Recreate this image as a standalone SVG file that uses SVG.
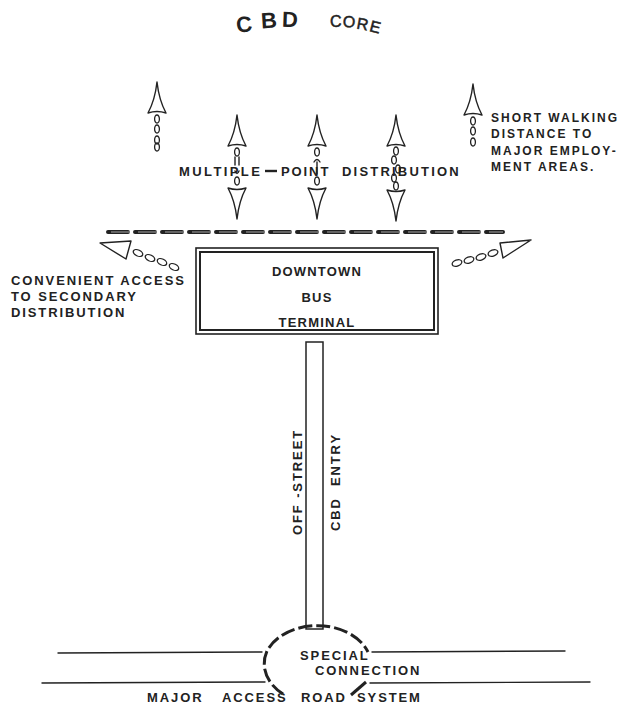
<svg xmlns="http://www.w3.org/2000/svg" width="633" height="706" viewBox="0 0 633 706">
<style>
.t{font-family:"Liberation Sans",Arial,sans-serif;font-weight:bold;fill:#222;font-size:13px;letter-spacing:1.9px}
.ln{fill:none;stroke:#222;stroke-width:1.4;stroke-linecap:round}
.hd{fill:#fff;stroke:#222;stroke-width:1.4;stroke-linejoin:round}
.lk{fill:none;stroke:#222;stroke-width:1.3}
</style>
<defs>
<path id="up" d="M0,0 Q-2,18 -9,31 Q0,28 9,31 Q2,18 0,0 Z"/>
<path id="dn" d="M0,0 Q-2,-18 -9,-31 Q0,-28 9,-31 Q2,-18 0,0 Z"/>
<ellipse id="lk" cx="0" cy="0" rx="2.4" ry="4"/>
</defs>
<rect width="633" height="706" fill="#fff"/>

<g id="title">
<text class="t" x="236" y="32" style="font-size:22px;font-weight:900" transform="rotate(-8 243 24)">C</text>
<text class="t" x="261" y="28" style="font-size:22px;font-weight:900" transform="rotate(-4 268 20)">B</text>
<text class="t" x="282" y="27" style="font-size:22px;font-weight:900" transform="rotate(2 289 20)">D</text>
<text class="t" x="330" y="27" style="font-size:16px;font-weight:normal;stroke:#222;stroke-width:0.5">C</text>
<text class="t" x="343" y="27" style="font-size:16px;font-weight:normal;stroke:#222;stroke-width:0.5" transform="rotate(4 347 21)">O</text>
<text class="t" x="357" y="29" style="font-size:16px;font-weight:normal;stroke:#222;stroke-width:0.5" transform="rotate(10 360 23)">R</text>
<text class="t" x="370" y="32" style="font-size:16px;font-weight:normal;stroke:#222;stroke-width:0.5" transform="rotate(14 373 26)">E</text>
</g>

<g id="arrows-up">
<use href="#up" x="157" y="82" class="hd"/>
<use href="#lk" x="157" y="119" class="lk"/><use href="#lk" x="157" y="129" class="lk"/><use href="#lk" x="157" y="140" class="lk"/><use href="#lk" x="157" y="147" class="lk"/>
<use href="#up" x="473" y="84" class="hd"/>
<use href="#lk" x="473" y="121" class="lk"/><use href="#lk" x="473" y="131" class="lk"/><use href="#lk" x="473" y="142" class="lk"/>
</g>

<g id="arrows-double">
<use href="#up" x="237" y="115" class="hd"/>
<use href="#lk" x="237" y="152" class="lk"/><use href="#lk" x="237" y="181" class="lk"/>
<path class="ln" d="M235,157 v8 M239,157 v8 M235,171 q2,5 4,0"/>
<use href="#dn" x="237" y="219" class="hd"/>

<use href="#up" x="317" y="115" class="hd"/>
<use href="#lk" x="317" y="152" class="lk"/><use href="#lk" x="317" y="181" class="lk"/>
<path class="ln" d="M314,162 q3,-5 6,0 M317,162 v12"/>
<use href="#dn" x="317" y="219" class="hd"/>

<use href="#up" x="396" y="115" class="hd"/>
<use href="#lk" x="396" y="151" class="lk"/><use href="#lk" x="394" y="160" class="lk"/><use href="#lk" x="398" y="169" class="lk"/><use href="#lk" x="394" y="178" class="lk"/><use href="#lk" x="396" y="186" class="lk"/>
<use href="#dn" x="396" y="221" class="hd"/>
</g>

<g id="label-multiple">
<text class="t" x="179" y="176" style="letter-spacing:2.4px">MULTIPLE</text>
<path d="M265,171 h12" stroke="#222" stroke-width="2.4"/>
<text class="t" x="281" y="176">POINT</text>
<text class="t" x="342" y="176" style="letter-spacing:2.2px">DISTRIBUTION</text>
</g>

<g id="label-short">
<text class="t" x="491" y="122" style="font-size:12px;letter-spacing:2px">SHORT WALKING</text>
<text class="t" x="491" y="138" style="font-size:12px;letter-spacing:2px">DISTANCE TO</text>
<text class="t" x="491" y="155" style="font-size:12px;letter-spacing:2px">MAJOR EMPLOY-</text>
<text class="t" x="491" y="171" style="font-size:12px;letter-spacing:2px">MENT AREAS.</text>
</g>

<g id="dashline">
<line x1="108" y1="232" x2="503" y2="232" stroke="#222" stroke-width="4" stroke-dasharray="20 7" stroke-linecap="round"/>
<line x1="108" y1="232" x2="503" y2="232" stroke="#fff" stroke-width="1.2" stroke-dasharray="20 7" stroke-dashoffset="-3" opacity="0.6"/>
</g>

<g id="side-arrows">
<polygon class="hd" points="100,243 131,241 126,259"/>
<ellipse class="lk" cx="138" cy="253" rx="5" ry="3" transform="rotate(25 138 253)"/>
<ellipse class="lk" cx="150" cy="258" rx="5" ry="3" transform="rotate(25 150 258)"/>
<ellipse class="lk" cx="162" cy="262" rx="5" ry="3" transform="rotate(25 162 262)"/>
<ellipse class="lk" cx="174" cy="267" rx="5" ry="3" transform="rotate(25 174 267)"/>
<polygon class="hd" points="531,240 500,243 503,258"/>
<ellipse class="lk" cx="493" cy="253" rx="5" ry="3" transform="rotate(-20 493 253)"/>
<ellipse class="lk" cx="481" cy="257" rx="5" ry="3" transform="rotate(-20 481 257)"/>
<ellipse class="lk" cx="469" cy="260" rx="5" ry="3" transform="rotate(-20 469 260)"/>
<ellipse class="lk" cx="457" cy="263" rx="5" ry="3" transform="rotate(-20 457 263)"/>
</g>

<g id="label-convenient">
<text class="t" x="11" y="285" style="letter-spacing:1.9px">CONVENIENT ACCESS</text>
<text class="t" x="11" y="301" style="letter-spacing:1.9px">TO SECONDARY</text>
<text class="t" x="11" y="317" style="letter-spacing:1.9px">DISTRIBUTION</text>
</g>

<g id="terminal">
<rect x="196" y="248" width="242" height="86" fill="#fff" stroke="#222" stroke-width="1.6"/>
<rect x="200" y="252" width="234" height="78" fill="none" stroke="#222" stroke-width="2"/>
<text class="t" x="317" y="276" text-anchor="middle" style="letter-spacing:1.2px">DOWNTOWN</text>
<text class="t" x="317" y="302" text-anchor="middle" style="letter-spacing:1.2px">BUS</text>
<text class="t" x="317" y="327" text-anchor="middle" style="letter-spacing:1.2px">TERMINAL</text>
</g>

<g id="connectors">
<rect x="306" y="342" width="17" height="287" fill="#fff" stroke="#222" stroke-width="1.5"/>
<path class="ln" d="M58,653 L262,652 M42,683 L265,682 M372,652 L565,651 M370,683 L590,682"/>
<path d="M283,694 A54,40 0 0 1 267,651 A54,40 0 0 1 368,652" fill="none" stroke="#222" stroke-width="3" stroke-dasharray="14 4"/>
<path d="M366,682 L351,695" stroke="#222" stroke-width="3"/>
</g>

<g id="label-column">
<text class="t" x="298" y="482" text-anchor="middle" transform="rotate(-90 298 482)" dy="4" xml:space="preserve">OFF -STREET</text>
<text class="t" x="336" y="482" text-anchor="middle" transform="rotate(-90 336 482)" dy="4" xml:space="preserve">CBD  ENTRY</text>
</g>

<g id="label-road">
<text class="t" x="300" y="660">SPECIAL</text>
<text class="t" x="315" y="675">CONNECTION</text>
<text class="t" x="147" y="702">MAJOR</text>
<text class="t" x="222" y="702">ACCESS</text>
<text class="t" x="301" y="702">ROAD</text>
<text class="t" x="357" y="702">SYSTEM</text>
</g>
</svg>
